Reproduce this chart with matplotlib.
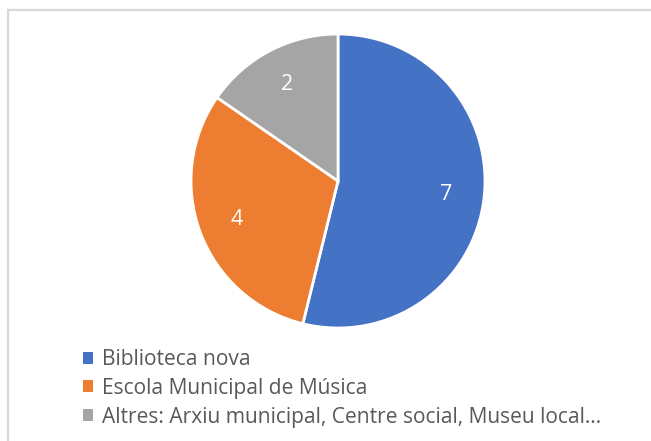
import matplotlib
matplotlib.use("Agg")
import matplotlib.pyplot as plt
from matplotlib.patches import Patch
from matplotlib.lines import Line2D

categories = ["Biblioteca nova", "Escola Municipal de Música",
              "Altres: Arxiu municipal, Centre social, Museu local…"]
values = [7, 4, 2]
colors = ["#4472C4", "#ED7D31", "#A5A5A5"]

plt.rcParams['font.family'] = ['Open Sans', 'DejaVu Sans']

W, H = 651, 441
fig = plt.figure(figsize=(W / 100, H / 100), dpi=100)

# border (top and left visible)
fig.add_artist(Line2D([8 / W, 8 / W], [0, 1 - 9.5 / H], color="#D9D9D9", lw=1.6,
                      transform=fig.transFigure))
fig.add_artist(Line2D([8 / W, 1], [1 - 9.5 / H, 1 - 9.5 / H], color="#D9D9D9", lw=1.6,
                      transform=fig.transFigure))

cx, cy, r = 338, 181, 147
ax = fig.add_axes([(cx - r) / W, (H - cy - r) / H, 2 * r / W, 2 * r / H])
wedges, texts, autotexts = ax.pie(
    values, colors=colors, startangle=90, counterclock=False,
    wedgeprops=dict(edgecolor="white", linewidth=2),
    autopct=lambda p: f"{round(p * sum(values) / 100):d}",
    pctdistance=0.74, radius=1.0,
    textprops=dict(color="white", fontsize=15.5))
ax.set_xlim(-1.0, 1.0)
ax.set_ylim(-1.0, 1.0)
ax.set_aspect("equal")
ax.axis("off")

handles = [Patch(facecolor=c, edgecolor="none") for c in colors]
leg = fig.legend(handles, categories, loc="upper left",
                 bbox_to_anchor=(83 / W, 1 - 349 / H), frameon=False,
                 handlelength=0.5, handleheight=0.5, handletextpad=0.4,
                 labelspacing=0.37, fontsize=15.1, borderpad=0, borderaxespad=0)
for t in leg.get_texts():
    t.set_color("#595959")

fig.savefig("out.png", dpi=100)
